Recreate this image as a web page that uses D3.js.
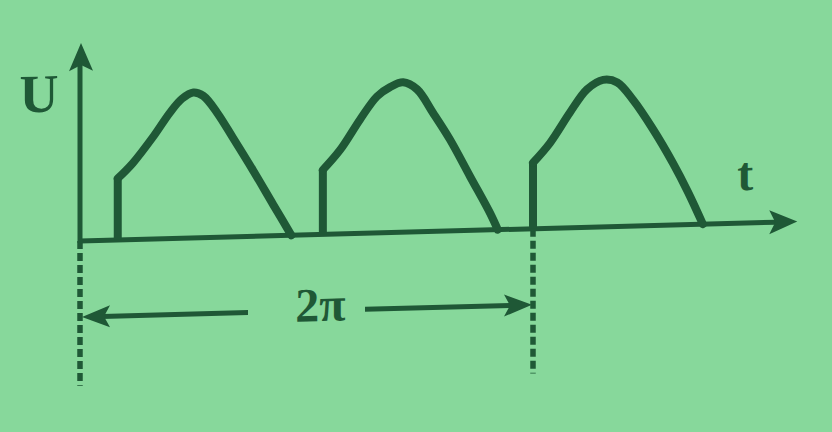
<!DOCTYPE html>
<html><head><meta charset="utf-8">
<script src="https://cdn.jsdelivr.net/npm/d3@7"></script>
<style>html,body{margin:0;padding:0;background:#87d89b;overflow:hidden}</style>
</head><body><svg id="c" width="832" height="432"></svg>
<script>
// ωt in degrees, U relative to peak
const hump1 = [[30,0],[30,0.41],[42,0.51],[58,0.68],[71.5,0.84],[81,0.93],[90,0.97],[98,0.945],[109,0.83],[121.6,0.66],[137.5,0.44],[153.4,0.21],[168,0]];
const hump2 = [[193,0],[193,0.43],[206.7,0.56],[222.6,0.76],[236,0.91],[246.4,0.97],[256.8,1.0],[267.9,0.95],[280.6,0.79],[294,0.61],[310,0.36],[326,0.11],[332,0]];
const hump3 = [[360,0],[360,0.44],[373.6,0.57],[389.5,0.77],[403,0.92],[415.7,0.98],[427,0.96],[439.6,0.84],[455.5,0.64],[471.4,0.41],[483.3,0.215],[495,0]];
const tMax = 570;          // x-axis arrow tip
const uMax = 1.32;         // y-axis arrow tip
const periodMarks = [0, 360];
const dimU = -0.507;       // level of the 2π dimension line
const dashBottom = -0.965;
const labels = [
  {text: "U", t: -32.6, u: 0.867, size: 54},
  {text: "t", t: 528.6, u: 0.22, size: 48},
  {text: "2π", t: 191, u: -0.577, size: 48}
];

const ink = "#1f5836";
const svg = d3.select("#c");
svg.append("rect").attr("width",832).attr("height",432).attr("fill","#87d89b");

const x = d3.scaleLinear().domain([0,360]).range([80,533]);
const y = d3.scaleLinear().domain([0,1]).range([241,91]);

const g = svg.append("g")
  .attr("transform", `translate(${x(0)},${y(0)}) skewY(-1.55) translate(${-x(0)},${-y(0)})`);

// dashed period marks
g.selectAll("line.dash").data(periodMarks).join("line")
  .attr("class","dash")
  .attr("x1", d => x(d)).attr("x2", d => x(d))
  .attr("y1", y(0)).attr("y2", y(dashBottom))
  .attr("stroke", ink).attr("stroke-width", 5.5).attr("stroke-dasharray","8,4");

// axes
g.append("line").attr("x1", x(0)).attr("y1", y(0)).attr("x2", x(tMax)-20).attr("y2", y(0))
  .attr("stroke", ink).attr("stroke-width", 5);
g.append("line").attr("x1", x(0)).attr("y1", y(0)+2).attr("x2", x(0)).attr("y2", y(uMax)+20)
  .attr("stroke", ink).attr("stroke-width", 5);
// arrowheads
g.append("path").attr("fill", ink)
  .attr("d", `M${x(tMax)},${y(0)} L${x(tMax)-28},${y(0)-12} L${x(tMax)-22},${y(0)} L${x(tMax)-28},${y(0)+12}Z`);
g.append("path").attr("fill", ink)
  .attr("d", `M${x(0)+1},${y(uMax)} L${x(0)-11},${y(uMax)+28} L${x(0)+1},${y(uMax)+22} L${x(0)+13},${y(uMax)+28}Z`);

// waveform: vertical firing edge (linear) + smooth sine part
const edge = d3.line().x(d => x(d[0])).y(d => y(d[1])).curve(d3.curveLinear);
const arc = d3.line().x(d => x(d[0])).y(d => y(d[1])).curve(d3.curveCatmullRom.alpha(0.5));
const humps = [hump1, hump2, hump3];
g.selectAll("path.edge").data(humps).join("path")
  .attr("class","edge").attr("d", d => edge(d.slice(0,2)))
  .attr("fill","none").attr("stroke", ink).attr("stroke-width", 8)
  .attr("stroke-linecap","butt");
g.selectAll("path.hump").data(humps).join("path")
  .attr("class","hump").attr("d", d => arc(d.slice(1)))
  .attr("fill","none").attr("stroke", ink).attr("stroke-width", 8)
  .attr("stroke-linejoin","round").attr("stroke-linecap","round");

// dimension line 2π
const dy = y(dimU);
g.append("line").attr("x1", x(1.6)+20).attr("x2", x(133.5)).attr("y1", dy).attr("y2", dy)
  .attr("stroke", ink).attr("stroke-width", 5);
g.append("line").attr("x1", x(226.5)).attr("x2", x(360)-20).attr("y1", dy).attr("y2", dy)
  .attr("stroke", ink).attr("stroke-width", 5);
g.append("path").attr("fill", ink)
  .attr("d", `M${x(1.6)},${dy} L${x(1.6)+28},${dy-11} L${x(1.6)+22},${dy} L${x(1.6)+28},${dy+11}Z`);
g.append("path").attr("fill", ink)
  .attr("d", `M${x(360)-1},${dy} L${x(360)-29},${dy-11} L${x(360)-23},${dy} L${x(360)-29},${dy+11}Z`);

// labels
g.selectAll("text.lbl").data(labels).join("text")
  .attr("class","lbl")
  .attr("x", d => x(d.t)).attr("y", d => y(d.u))
  .attr("text-anchor","middle")
  .attr("font-family","'Liberation Serif', 'DejaVu Serif', serif")
  .attr("font-weight","bold")
  .attr("font-size", d => d.size)
  .attr("fill", ink)
  .text(d => d.text);
</script></body></html>
